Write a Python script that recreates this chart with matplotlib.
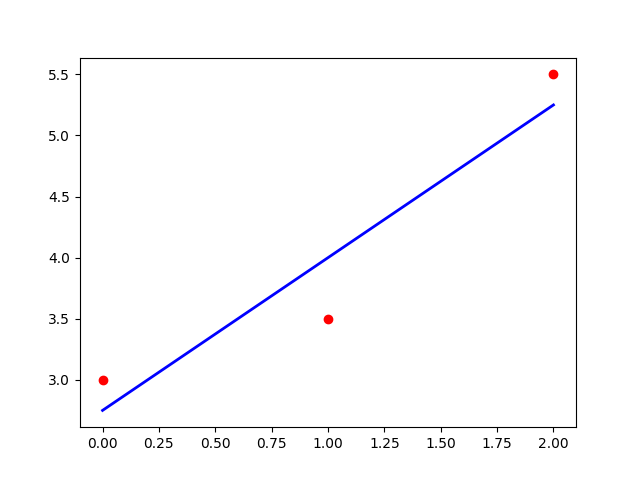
import matplotlib
matplotlib.use("Agg")
import matplotlib.pyplot as plt

# observed points
x_points = [0, 1, 2]
y_points = [3.0, 3.5, 5.5]

# fitted line
x_line = [0, 2]
y_line = [2.75, 5.25]

fig = plt.figure(figsize=(6.4, 4.8), dpi=100)
plt.scatter(x_points, y_points, color='red')
plt.plot(x_line, y_line, color='blue', linewidth=2)

plt.savefig('out.png')
